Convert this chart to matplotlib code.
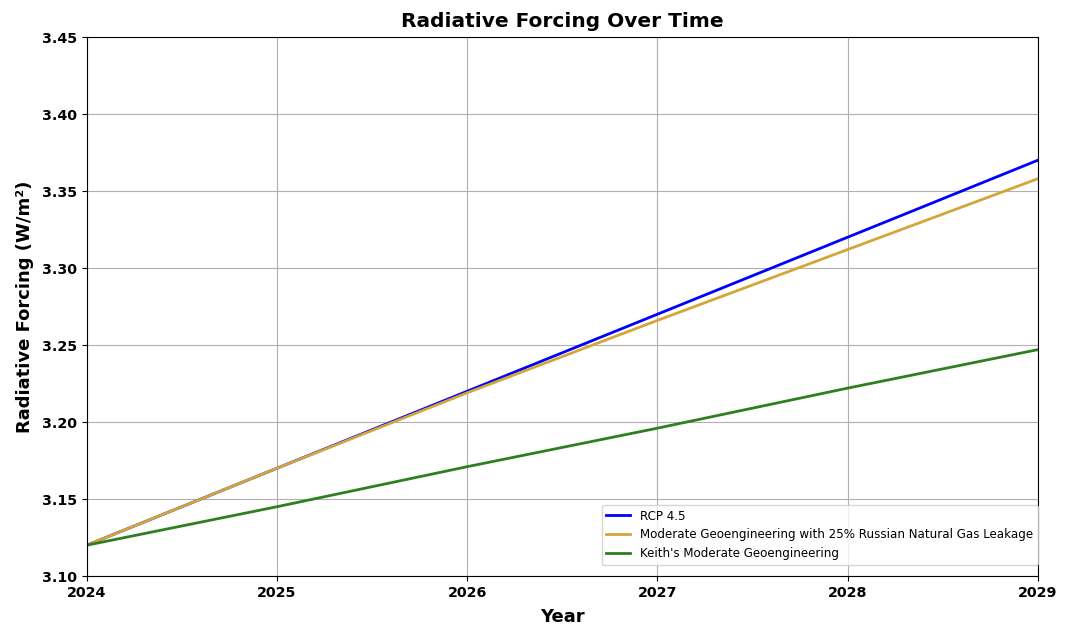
import matplotlib
matplotlib.use("Agg")
import matplotlib.pyplot as plt

years = [2024, 2025, 2026, 2027, 2028, 2029]
rcp45 = [3.120, 3.170, 3.220, 3.270, 3.320, 3.370]
leakage = [3.120, 3.170, 3.219, 3.266, 3.312, 3.358]
keith = [3.120, 3.145, 3.171, 3.196, 3.222, 3.247]

fig, ax = plt.subplots(figsize=(10.72, 6.4), dpi=100)
ax.plot(years, rcp45, color="blue", linewidth=2, label="RCP 4.5")
ax.plot(years, leakage, color="#d4a537", linewidth=2,
        label="Moderate Geoengineering with 25% Russian Natural Gas Leakage")
ax.plot(years, keith, color="#2f7f22", linewidth=2,
        label="Keith's Moderate Geoengineering")

ax.set_xlim(2024, 2029)
ax.set_ylim(3.10, 3.45)
ax.set_title("Radiative Forcing Over Time", fontsize=14.5, fontweight="bold", pad=7)
ax.set_xlabel("Year", fontsize=13, fontweight="bold", labelpad=6)
ax.set_ylabel("Radiative Forcing (W/m²)", fontsize=13, fontweight="bold", labelpad=6)
for lab in ax.get_xticklabels() + ax.get_yticklabels():
    lab.set_fontweight("bold")
ax.tick_params(labelsize=10.3)
ax.grid(True)
ax.legend(loc="lower right", fontsize=8.6, borderaxespad=0.0,
          bbox_to_anchor=(1.0, 0.02))

fig.subplots_adjust(left=0.081, right=0.968, top=0.942, bottom=0.1)
fig.savefig("out.png", dpi=100)
